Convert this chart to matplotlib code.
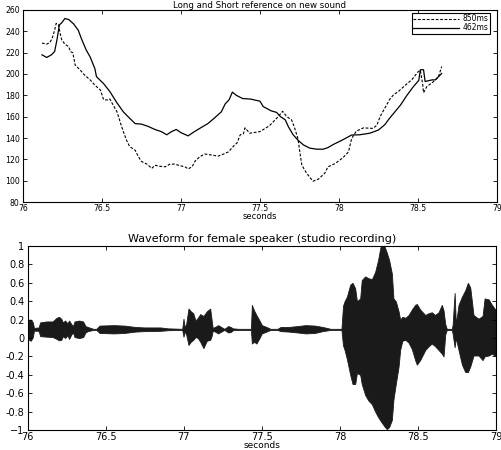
"""Pitch reference curves and waveform, female speaker."""

import matplotlib
matplotlib.use("Agg")
import matplotlib.pyplot as plt

plt.rcParams["font.family"] = ["DejaVu Sans"]

# pitch track, 462 ms window (solid)
t_short = [76.12, 76.15, 76.18, 76.20, 76.215, 76.23, 76.245, 76.265, 76.29, 76.32,
           76.35, 76.37, 76.40, 76.425, 76.455, 76.465, 76.51, 76.55, 76.59, 76.635,
           76.675, 76.71, 76.75, 76.79, 76.835, 76.875, 76.91, 76.94, 76.97, 77.00,
           77.045, 77.085, 77.13, 77.17, 77.21, 77.255, 77.28, 77.305, 77.325, 77.35,
           77.39, 77.44, 77.50, 77.52, 77.57, 77.605, 77.63, 77.66, 77.68, 77.71,
           77.74, 77.775, 77.815, 77.86, 77.90, 77.93, 77.965, 78.02, 78.08, 78.13,
           78.195, 78.25, 78.29, 78.32, 78.39, 78.43, 78.47, 78.505, 78.515, 78.535,
           78.545, 78.59, 78.61, 78.65]
f_short = [218, 215.5, 218, 221, 232, 246, 248, 252, 251, 247,
           241, 233, 222.5, 216, 205, 197.5, 191, 183.5, 174, 164.5,
           158.5, 153.5, 153, 151, 148, 146, 143, 146, 148, 145,
           142, 146, 150, 153.5, 158.5, 164.5, 172, 176, 183, 180,
           177, 176.5, 174.5, 169.5, 165.5, 164, 160, 157, 150.5, 143,
           138, 133.5, 130.5, 129.5, 129.5, 131, 134, 138, 142.8, 143,
           144.5, 147.5, 152.5, 158.5, 171, 180, 188, 194, 204, 204,
           193, 194.5, 194.5, 200.5]

# pitch track, 850 ms window (dashed)
t_long = [76.12, 76.15, 76.17, 76.185, 76.20, 76.21, 76.225, 76.235, 76.245, 76.265,
          76.29, 76.30, 76.315, 76.33, 76.36, 76.39, 76.425, 76.455, 76.49, 76.51,
          76.54, 76.55, 76.57, 76.595, 76.615, 76.635, 76.655, 76.675, 76.71, 76.73,
          76.75, 76.785, 76.815, 76.835, 76.865, 76.90, 76.93, 76.96, 76.995, 77.025,
          77.045, 77.07, 77.09, 77.12, 77.15, 77.195, 77.235, 77.27, 77.30, 77.33,
          77.355, 77.375, 77.395, 77.405, 77.435, 77.50, 77.56, 77.615, 77.643, 77.67,
          77.70, 77.72, 77.74, 77.755, 77.765, 77.795, 77.835, 77.87, 77.91, 77.93,
          77.975, 78.025, 78.06, 78.08, 78.11, 78.155, 78.215, 78.24, 78.26, 78.29,
          78.32, 78.345, 78.375, 78.42, 78.46, 78.50, 78.515, 78.53, 78.535, 78.555,
          78.595, 78.63, 78.65]
f_long = [229, 228, 229.5, 233.5, 241, 247.5, 246, 238, 232, 228,
          225.5, 221, 220, 208.5, 204, 199, 194.5, 189.5, 185, 176,
          175.5, 176.5, 171, 164.5, 155, 146, 138, 132, 128.5, 122.5,
          118, 115.5, 111.5, 114.5, 113.5, 113, 115.5, 115.5, 114, 113,
          111, 113, 118.5, 122.5, 125, 124, 123, 125, 127, 132,
          135.5, 143, 144, 149.5, 144.5, 146, 151.5, 160, 165, 160,
          157, 149, 139.5, 124, 114.5, 107, 99.5, 101.5, 107, 113,
          116, 121.5, 127, 139.5, 146.5, 149.5, 149, 152, 160, 168,
          176, 180.5, 183.5, 189.5, 194.5, 202, 203.5, 190, 182.5, 188,
          192.5, 197.5, 207]

# waveform envelope (upper / lower extent)
t_wave = [76.000, 76.008, 76.02, 76.033, 76.04, 76.07, 76.08, 76.12, 76.16, 76.185,
          76.20, 76.215, 76.225, 76.24, 76.255, 76.265, 76.28, 76.29, 76.30, 76.33,
          76.355, 76.37, 76.385, 76.42, 76.44, 76.46, 76.55, 76.62, 76.69, 76.75,
          76.85, 76.90, 76.99, 76.998, 77.005, 77.015, 77.03, 77.045, 77.06, 77.075,
          77.09, 77.105, 77.126, 77.147, 77.169, 77.178, 77.185, 77.20, 77.22, 77.24,
          77.26, 77.285, 77.30, 77.315, 77.35, 77.43, 77.436, 77.45, 77.465, 77.485,
          77.50, 77.53, 77.555, 77.60, 77.62, 77.67, 77.73, 77.78, 77.84, 77.89,
          77.94, 78.01, 78.02, 78.03, 78.045, 78.066, 78.081, 78.098, 78.109, 78.13,
          78.14, 78.162, 78.183, 78.205, 78.226, 78.245, 78.26, 78.285, 78.30, 78.315,
          78.333, 78.343, 78.358, 78.376, 78.386, 78.40, 78.42, 78.44, 78.461, 78.482,
          78.493, 78.514, 78.547, 78.568, 78.589, 78.61, 78.632, 78.653, 78.664, 78.675,
          78.685, 78.717, 78.722, 78.735, 78.743, 78.76, 78.782, 78.803, 78.82, 78.835,
          78.856, 78.888, 78.914, 78.927, 78.953, 78.974, 79.0]
w_hi = [0.15, 0.20, 0.20, 0.17, 0.11, 0.115, 0.17, 0.18, 0.18, 0.22,
        0.23, 0.21, 0.17, 0.19, 0.16, 0.19, 0.15, 0.13, 0.18, 0.19,
        0.18, 0.13, 0.12, 0.10, 0.10, 0.135, 0.14, 0.135, 0.12, 0.115,
        0.115, 0.105, 0.10, 0.21, 0.12, 0.15, 0.32, 0.29, 0.27, 0.19,
        0.22, 0.26, 0.24, 0.29, 0.32, 0.20, 0.11, 0.12, 0.14, 0.12,
        0.10, 0.13, 0.12, 0.105, 0.10, 0.10, 0.36, 0.30, 0.25, 0.19,
        0.14, 0.12, 0.10, 0.10, 0.12, 0.12, 0.13, 0.14, 0.135, 0.12,
        0.10, 0.10, 0.35, 0.40, 0.45, 0.58, 0.60, 0.54, 0.40, 0.43,
        0.63, 0.67, 0.65, 0.64, 0.72, 0.85, 0.99, 1.00, 0.93, 0.85,
        0.70, 0.43, 0.40, 0.29, 0.20, 0.23, 0.22, 0.25, 0.31, 0.36,
        0.37, 0.31, 0.25, 0.27, 0.28, 0.25, 0.28, 0.36, 0.30, 0.15,
        0.10, 0.10, 0.14, 0.49, 0.15, 0.36, 0.45, 0.52, 0.60, 0.55,
        0.25, 0.21, 0.24, 0.43, 0.42, 0.36, 0.30]
w_lo = [0.03, -0.02, -0.03, 0.01, 0.08, 0.078, 0.02, 0.015, 0.01, -0.01,
        -0.025, -0.02, 0.02, 0.0, 0.03, -0.01, 0.04, 0.06, 0.01, 0.0,
        0.01, 0.06, 0.075, 0.088, 0.088, 0.055, 0.05, 0.055, 0.07, 0.075,
        0.078, 0.085, 0.088, 0.014, 0.07, 0.04, -0.076, -0.04, -0.02, 0.01,
        0.0, -0.04, -0.11, -0.03, -0.02, 0.02, 0.08, 0.07, 0.05, 0.07,
        0.088, 0.06, 0.065, 0.085, 0.088, 0.088, -0.06, -0.04, -0.06, 0.0,
        0.05, 0.07, 0.088, 0.088, 0.075, 0.07, 0.06, 0.05, 0.055, 0.075,
        0.088, 0.088, -0.08, -0.13, -0.23, -0.40, -0.50, -0.50, -0.38, -0.40,
        -0.50, -0.62, -0.68, -0.72, -0.80, -0.86, -0.90, -0.96, -0.99, -0.97,
        -0.89, -0.67, -0.50, -0.31, -0.13, -0.03, -0.02, -0.05, -0.12, -0.24,
        -0.29, -0.24, -0.13, -0.09, -0.06, -0.09, -0.13, -0.17, -0.20, 0.04,
        0.088, 0.088, 0.05, -0.10, 0.0, -0.13, -0.29, -0.37, -0.37, -0.31,
        -0.19, -0.19, -0.24, -0.20, -0.19, -0.17, -0.20]

x_ticks = [76, 76.5, 77, 77.5, 78, 78.5, 79]
x_labels = ["76", "76.5", "77", "77.5", "78", "78.5", "79"]
top_yticks = [80, 100, 120, 140, 160, 180, 200, 220, 240, 260]
wave_yticks = [-1, -0.8, -0.6, -0.4, -0.2, 0, 0.2, 0.4, 0.6, 0.8, 1]
wave_ylabels = ["\u22121", "-0.8", "-0.6", "-0.4", "-0.2", "0",
                "0.2", "0.4", "0.6", "0.8", "1"]

fig = plt.figure(figsize=(5.01, 4.5), dpi=100)
fig.patch.set_facecolor("white")


def matlab_box(ax, size):
    for s in ax.spines.values():
        s.set_linewidth(0.8)
        s.set_color("black")
    ax.tick_params(direction="in", length=3, width=0.6, top=True, right=True,
                   labelsize=size, pad=1.5, colors="black")
    ax.tick_params(axis="y", pad=2.4)


# --- top: pitch references
ax1 = fig.add_axes([0.0459, 0.5511, 0.9461, 0.4267])
ax1.plot(t_long, f_long, color="black", lw=0.8, dashes=(2.5, 1.5), label="850ms")
ax1.plot(t_short, f_short, color="black", lw=0.9, label="462ms")
ax1.set_xlim(76, 79)
ax1.set_ylim(80, 260)
ax1.set_xticks(x_ticks)
ax1.set_xticklabels(x_labels)
ax1.set_yticks(top_yticks)
matlab_box(ax1, 5.6)
ax1.set_title("Long and Short reference on new sound", fontsize=6.2, pad=1.5)
ax1.set_xlabel("seconds", fontsize=6, labelpad=-0.5)
leg = ax1.legend(loc="upper right", bbox_to_anchor=(0.986, 0.986), borderaxespad=0,
                 fontsize=5.5, handlelength=6.0, handletextpad=0.5, labelspacing=0.0,
                 borderpad=0.2, fancybox=False, framealpha=1)
leg.get_frame().set_edgecolor("black")
leg.get_frame().set_linewidth(0.8)

# --- bottom: waveform
ax2 = fig.add_axes([0.0553, 0.0444, 0.9347, 0.4089])
ax2.fill_between(t_wave, w_lo, w_hi, color="#1a1a1a", lw=0.6, edgecolor="#1a1a1a")
ax2.set_xlim(76, 79)
ax2.set_ylim(-1, 1)
ax2.set_xticks(x_ticks)
ax2.set_xticklabels(x_labels)
ax2.set_yticks(wave_yticks)
ax2.set_yticklabels(wave_ylabels)
matlab_box(ax2, 7.0)
ax2.set_title("Waveform for female speaker (studio recording)", fontsize=8, pad=3)
ax2.set_xlabel("seconds", fontsize=6.5, labelpad=-0.5)

fig.savefig("out.png", dpi=100, facecolor="white")
